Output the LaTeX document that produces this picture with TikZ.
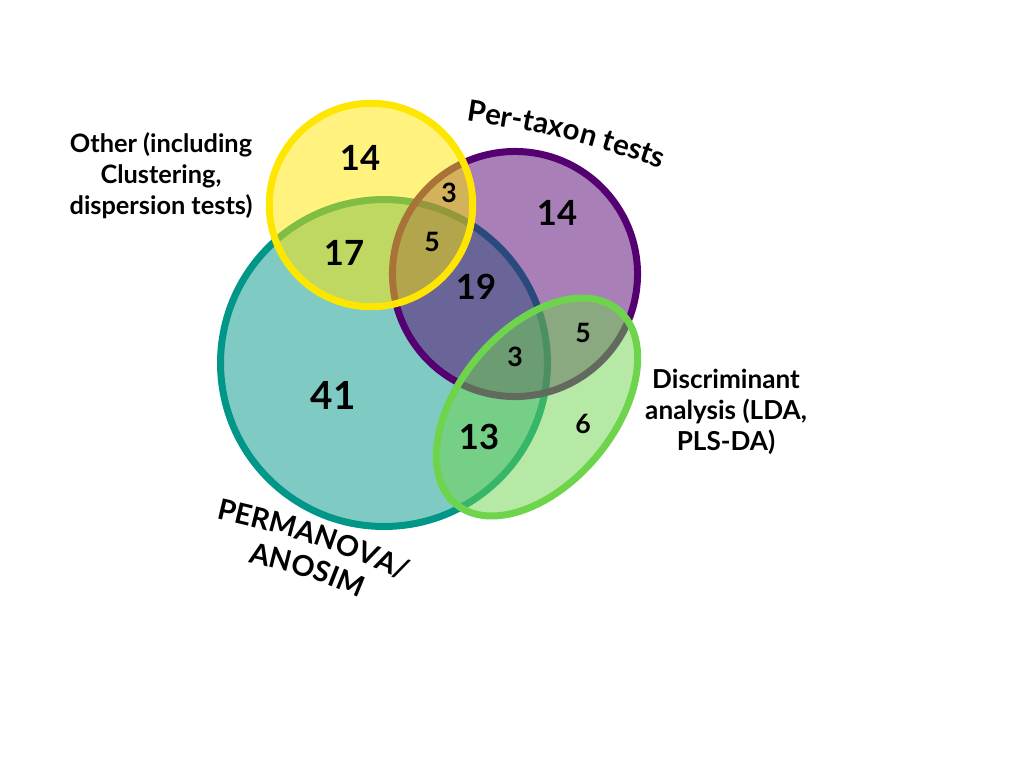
\documentclass[tikz,border=0pt]{standalone}
\usepackage{fontspec}
\setmainfont{Lato}
\usetikzlibrary{decorations.text}
\definecolor{cteal}{HTML}{009688}
\definecolor{cpurple}{HTML}{540070}
\definecolor{cyellow}{HTML}{FFE600}
\definecolor{cgreen}{HTML}{6ED44C}
\begin{document}
\begin{tikzpicture}[x=0.75pt,y=-0.75pt,
  setshape/.style={draw=#1, fill=#1, fill opacity=0.5, draw opacity=1, line width=5.25pt},
  bignum/.style={font=\fontsize{26}{30}\selectfont\bfseries, inner sep=0pt},
  hugenum/.style={font=\fontsize{29}{33}\selectfont\bfseries, inner sep=0pt},
  smallnum/.style={font=\fontsize{20}{24}\selectfont\bfseries, inner sep=0pt},
  lbl/.style={font=\fontsize{#1}{23.2}\selectfont\bfseries, align=center, inner sep=0pt},
  arctext/.style 2 args={decorate, decoration={text along path, text align=center, text={|\fontsize{#1}{#1}\selectfont\bfseries|#2}}}]
\useasboundingbox (0,0) rectangle (1024,768);
% sets
\path[setshape=cteal] (384,363) circle[radius=122.6pt];
\path[setshape=cpurple] (515,274) circle[radius=91.9pt];
\path[setshape=cyellow] (371,205) circle[radius=76.3pt];
\path[setshape=cgreen, rotate around={50:(537,407)}] (537,407) ellipse[x radius=94.9pt, y radius=58.1pt];
% numbers
\node[bignum] (n14y) at (360,158) {14};
\node[smallnum] (n3a) at (449,193) {3};
\node[bignum] (n14p) at (557,213) {14};
\node[bignum] (n17) at (344,253) {17};
\node[smallnum] (n5a) at (432,242) {5};
\node[bignum] (n19) at (476,287) {19};
\node[smallnum] (n5b) at (583,333) {5};
\node[smallnum] (n3b) at (515,357) {3};
\node[hugenum] (n41) at (333,395) {41};
\node[bignum] (n13) at (479,437) {13};
\node[smallnum] (n6) at (583,424) {6};
% labels
\node[lbl=19] (other) at (161,176) {Other (including\\Clustering,\\dispersion tests)};
\node[lbl=19.6] (disc) at (726,412) {Discriminant\\analysis (LDA,\\PLS-DA)};
\path[arctext={22}{Per-taxon tests}] (440.2,116.7) .. controls (565.6,136.1) .. (685.9,177.1);
\path[arctext={21.5}{PERMANOVA/}] (194.5,513.6) .. controls (313,541.3) .. (424.8,589);
\path[arctext={21.5}{ANOSIM}] (223.5,556.9) .. controls (304.9,574.9) .. (382.5,607.7);
\end{tikzpicture}
\end{document}
